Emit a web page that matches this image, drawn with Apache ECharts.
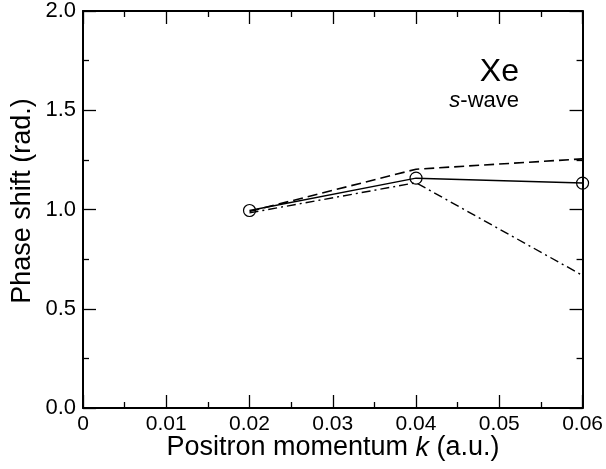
<!DOCTYPE html>
<html><head><meta charset="utf-8">
<script src="https://cdn.jsdelivr.net/npm/echarts@6/dist/echarts.min.js"></script>
<style>html,body{margin:0;padding:0;background:#fff}#c{width:606px;height:469px}</style>
</head><body><div id="c"></div>
<script>
var momentum = [0.02, 0.04, 0.06];
var solidVals = [0.995, 1.158, 1.133];
var dashedVals = [0.99, 1.203, 1.255];
var dashDotVals = [0.983, 1.135, 0.668];
var xTicks = [0, 0.01, 0.02, 0.03, 0.04, 0.05, 0.06];
var yTicks = [0.0, 0.5, 1.0, 1.5, 2.0];

function pairs(xs, ys){ return xs.map(function(x,i){return [x, ys[i]];}); }
var F = '"Liberation Sans", Arial, Helvetica, sans-serif';
var chart = echarts.init(document.getElementById('c'), null, {renderer:'canvas'});
function axisCommon(extra){
  return Object.assign({
    axisLine:{show:true, onZero:false, lineStyle:{color:'#000', width:2}},
    axisTick:{show:true, inside:true, length:13, lineStyle:{color:'#000', width:1.3}},
    minorTick:{show:true, splitNumber:2, length:6, lineStyle:{color:'#000', width:1.3}},
    splitLine:{show:false}
  }, extra);
}
chart.setOption({
  animation:false,
  grid:{left:83, right:22, top:9, bottom:61, show:false},
  xAxis:[
    axisCommon({type:'value', min:0, max:0.06, interval:0.01, position:'bottom',
      axisLabel:{color:'#000', fontFamily:F, fontSize:21, margin:6,
        formatter:function(v){ var r=Math.round(v*100)/100; return r===0?'0':String(r); }}
    }),
    axisCommon({type:'value', min:0, max:0.06, interval:0.01, position:'top', axisLabel:{show:false}})
  ],
  yAxis:[
    axisCommon({type:'value', min:0, max:2, interval:0.5, position:'left',
      axisLabel:{color:'#000', fontFamily:F, fontSize:22, margin:7,
        formatter:function(v){ return v.toFixed(1); }}
    }),
    axisCommon({type:'value', min:0, max:2, interval:0.5, position:'right', axisLabel:{show:false}})
  ],
  series:[
    {type:'line', data:pairs(momentum, dashedVals), symbol:'none',
      lineStyle:{color:'#000', width:1.6, type:[10,5]}},
    {type:'line', data:pairs(momentum, dashDotVals), symbol:'none',
      lineStyle:{color:'#000', width:1.4, type:[9,4,2,4]}},
    {type:'line', data:pairs(momentum, solidVals), symbol:'circle', symbolSize:12,
      itemStyle:{color:'rgba(255,255,255,0)', borderColor:'#000', borderWidth:1.2},
      lineStyle:{color:'#000', width:1.5}, z:5}
  ],
  graphic:[
    {type:'text', x:333, y:448, style:{rich:{n:{fontFamily:F, fontSize:27, fill:'#000'}, i:{fontFamily:F, fontSize:27, fontStyle:'italic', fill:'#000'}},
      text:'{n|Positron momentum }{i|k}{n| (a.u.)}', align:'center', verticalAlign:'middle'}},
    {type:'text', x:23, y:201, rotation:Math.PI/2, style:{text:'Phase shift (rad.)', font:'27px '+F, fill:'#000', align:'center', verticalAlign:'middle'}},
    {type:'text', x:519, y:72, style:{text:'Xe', font:'32px '+F, fill:'#000', align:'right', verticalAlign:'middle'}},
    {type:'text', x:519, y:101, style:{rich:{i:{fontStyle:'italic', fontFamily:F, fontSize:22, fill:'#000'}, n:{fontFamily:F, fontSize:22, fill:'#000'}}, text:'{i|s}{n|-wave}', align:'right', verticalAlign:'middle'}}
  ]
});
</script></body></html>
